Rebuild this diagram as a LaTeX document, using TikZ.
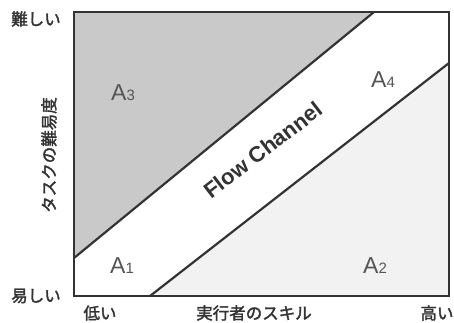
\documentclass[tikz,border=0pt]{standalone}
\usepackage{fontspec}
\setmainfont{Liberation Sans}
\newfontfamily\jp[FakeBold=2]{Noto Sans CJK JP}
\definecolor{dark}{HTML}{333333}
\definecolor{hard}{HTML}{C9C9C9}
\definecolor{easy}{HTML}{F2F2F2}
\definecolor{lbl}{HTML}{555555}
\begin{document}
\begin{tikzpicture}[x=1pt,y=-1pt,
  jplabel/.style={font=\jp\fontsize{16.5}{16.5}\selectfont, text=dark, inner sep=0pt},
  arealabel/.style={font=\fontsize{23}{23}\selectfont, text=lbl, inner sep=0pt},
  border/.style={draw=dark, line width=2.6pt},
  divider/.style={draw=dark, line width=2.2pt}]
\useasboundingbox (0,0) rectangle (454,323);
\coordinate (TL) at (74,12);
\coordinate (TR) at (449,12);
\coordinate (BR) at (449,296);
\coordinate (BL) at (74,296);
\coordinate (U1) at (74,258);
\coordinate (U2) at (374,12);
\coordinate (L1) at (150,296);
\coordinate (L2) at (449,63);
\fill[white] (TL) -- (TR) -- (BR) -- (BL) -- cycle;
\fill[hard] (TL) -- (U2) -- (U1) -- cycle;
\fill[easy] (L1) -- (BR) -- (L2) -- cycle;
\draw[divider] (U1) -- (U2);
\draw[divider] (L1) -- (L2);
\draw[border] (TL) -- (TR) -- (BR) -- (BL) -- cycle;
\node[arealabel] (a3) at (123,93) {A\fontsize{15}{15}\selectfont 3};
\node[arealabel] (a4) at (383,80) {A\fontsize{15}{15}\selectfont 4};
\node[arealabel] (a1) at (122,266) {A\fontsize{15}{15}\selectfont 1};
\node[arealabel] (a2) at (375,266) {A\fontsize{15}{15}\selectfont 2};
\node[font=\bfseries\fontsize{22}{22}\selectfont, text=dark, rotate=37.5, inner sep=0pt] (fc) at (263,150) {Flow Channel};
\node[jplabel] (hi) at (36,19) {難しい};
\node[jplabel] (lo) at (36,296) {易しい};
\node[jplabel] (sl) at (100,313) {低い};
\node[jplabel] (sh) at (437,313) {高い};
\node[jplabel] (sk) at (254,313) {実行者のスキル};
\node[jplabel, rotate=90] (df) at (49,155) {タスクの難易度};
\end{tikzpicture}
\end{document}
